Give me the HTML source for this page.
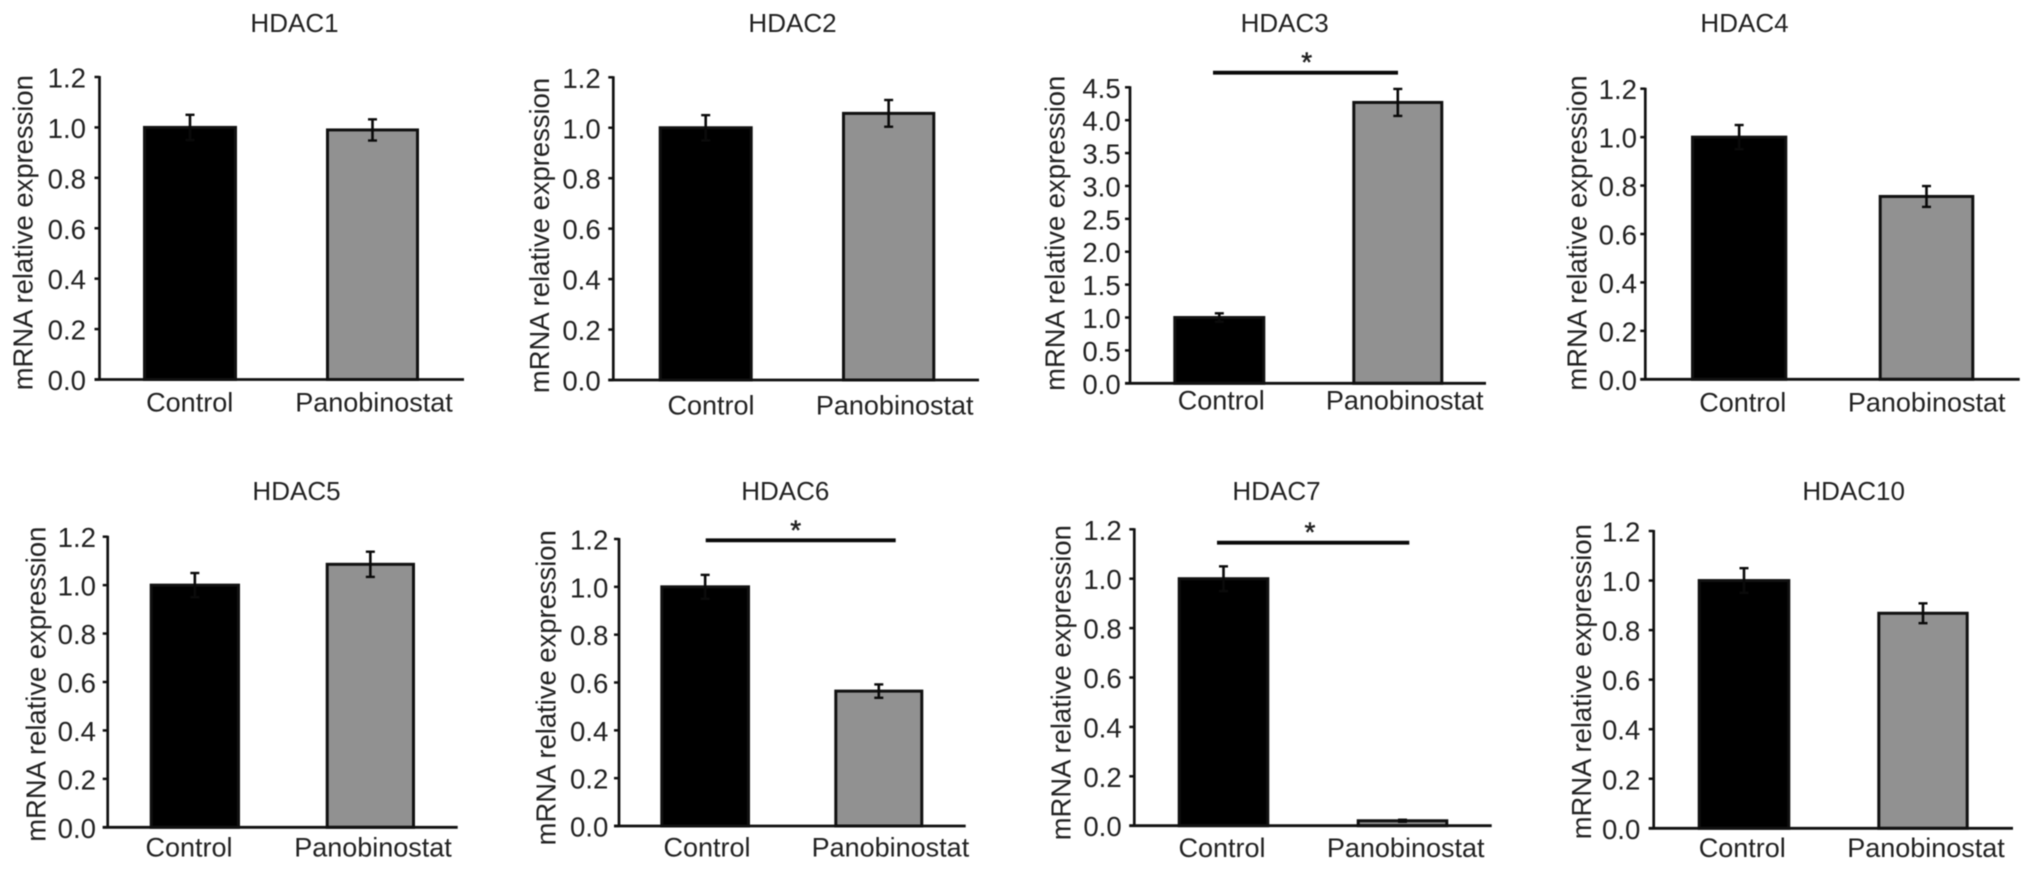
<!DOCTYPE html>
<html lang="en">
<head>
<meta charset="utf-8">
<title>HDAC mRNA relative expression</title>
<style>
  html, body { margin: 0; padding: 0; background: #fff; width: 2032px; height: 870px; overflow: hidden; }
  svg { display: block; filter: blur(0.6px); }
  text { font-family: "Liberation Sans", sans-serif; fill: #222; }
</style>
</head>
<body>
<svg id="figure" xmlns="http://www.w3.org/2000/svg" width="2032" height="870" viewBox="0 0 2032 870"></svg>
<script>
// ---- Data ----
const genes = ["HDAC1", "HDAC2", "HDAC3", "HDAC4", "HDAC5", "HDAC6", "HDAC7", "HDAC10"];
const groups = ["Control", "Panobinostat"];
const controlValues = [1.0, 1.0, 1.0, 1.0, 1.0, 1.0, 1.0, 1.0];
const controlErrors = [0.05, 0.05, 0.064, 0.05, 0.05, 0.05, 0.05, 0.05];
const panobinostatValues = [0.99, 1.057, 4.27, 0.755, 1.086, 0.564, 0.02, 0.868];
const panobinostatErrors = [0.042, 0.053, 0.205, 0.043, 0.052, 0.028, 0.004, 0.04];
const significant = [false, false, true, false, false, true, true, false];
const defaultTickLabels = ["0.0", "0.2", "0.4", "0.6", "0.8", "1.0", "1.2"];
const hdac3TickLabels = ["0.0", "0.5", "1.0", "1.5", "2.0", "2.5", "3.0", "3.5", "4.0", "4.5"];
const yAxisTitle = "mRNA relative expression";
const significanceMark = "*";

// ---- Panel layout (frame geometry only, no data) ----
const frames = [
  {ax:99.5,  top:77,    base:379.5, end:464,    bar0:[143,237],       bar1:[326,419],       tx:294.5,  ty:32,  yt:[32.7,232.7],   lx:[189.7,374],     ly:411.7, tr:86},
  {ax:613.3, top:77.3,  base:380,   end:979,    bar0:[658.7,752.7],   bar1:[842,935.3],     tx:792.5,  ty:32,  yt:[549,235.5],    lx:[711,894.7],     ly:414.3, tr:600.7},
  {ax:1130,  top:87.3,  base:383.3, end:1486,   bar0:[1173.3,1265.3], bar1:[1352.3,1443.3], tx:1284.7, ty:32,  yt:[1064.3,233.3], lx:[1221.3,1404.7], ly:409.3, tr:1120.7, sig:[1213,1398,72.7,1306.7]},
  {ax:1645.3,top:88.7,  base:379.3, end:2019.7, bar0:[1691,1787.3],   bar1:[1878.7,1974.3], tx:1744.5, ty:32,  yt:[1586.3,233],   lx:[1742.8,1926.7], ly:411.7, tr:1637},
  {ax:107.7, top:536.7, base:827.3, end:457.7,  bar0:[149.7,240],     bar1:[325.7,415],     tx:296.5,  ty:500, yt:[45.7,684.2],   lx:[189,373],       ly:856.7, tr:96},
  {ax:619,   top:539,   base:826,   end:965.7,  bar0:[660.3,750],     bar1:[834.3,923.3],   tx:785.3,  ty:500, yt:[555.7,687.8],  lx:[707,890.4],     ly:856.7, tr:608.3, sig:[705.7,895.7,540.3,795.7]},
  {ax:1134.3,top:529.3, base:825.7, end:1491.7, bar0:[1177.7,1269.3], bar1:[1356.7,1448.3], tx:1276.5, ty:500, yt:[1070.7,682.7], lx:[1222,1405.7],   ly:857,   tr:1121.7, sig:[1217,1409.3,542.7,1310]},
  {ax:1653.7,top:531,   base:828.3, end:2013,   bar0:[1697.7,1790.3], bar1:[1877.3,1968.7], tx:1853.7, ty:500, yt:[1591,681.7],   lx:[1742.3,1926],   ly:857,   tr:1640.3}
];

const NS = "http://www.w3.org/2000/svg";
const root = document.getElementById("figure");

function make(tag, parent, props) {
  const el = document.createElementNS(NS, tag);
  for (const k in props) el.setAttribute(k, props[k]);
  parent.appendChild(el);
  return el;
}

function drawBar(g, frame, range, value, error, fillColor, key, yOf) {
  const cx = (range[0] + range[1]) / 2;
  const yv = yOf(value);
  const yHi = yOf(value + error);
  const yLo = yOf(Math.max(0, value - error));

  const bar = make("rect", g, {x: range[0] + 1.5, y: yv, width: range[1] - range[0] - 3, height: Math.max(frame.base - yv, 0), fill: fillColor, stroke: "#111", "stroke-width": 3});
  
  

  const stem = make("line", g, {x1: cx, x2: cx, y1: yHi, y2: yLo, stroke: "#0a0a0a", "stroke-width": 2.6});
  
  

  const capHi = make("line", g, {x1: cx - 4.5, x2: cx + 4.5, y1: yHi, y2: yHi, stroke: "#0a0a0a", "stroke-width": 2.4});
  
  

  const capLo = make("line", g, {x1: cx - 4.5, x2: cx + 4.5, y1: yLo, y2: yLo, stroke: "#0a0a0a", "stroke-width": 2.4});
  
  
}

genes.forEach(function (gene, i) {
  const frame = frames[i];
  const ticks = gene === "HDAC3" ? hdac3TickLabels : defaultTickLabels;
  const yMax = parseFloat(ticks[ticks.length - 1]);
  const yOf = function (v) { return frame.base - (v / yMax) * (frame.base - frame.top); };
  const slug = gene.toLowerCase();

  const g = make("g", root, {});
  
  

  const title = make("text", g, {x: frame.tx, y: frame.ty, "text-anchor": "middle", "font-size": 26});
  title.textContent = gene;
  
  

  const yTitle = make("text", g, {transform: "translate(" + frame.yt[0] + "," + frame.yt[1] + ") rotate(-90)", "text-anchor": "middle", "font-size": 27.4});
  yTitle.textContent = yAxisTitle;
  
  

  const yAxis = make("line", g, {x1: frame.ax, x2: frame.ax, y1: frame.top - 1, y2: frame.base, stroke: "#111", "stroke-width": 2.7});
  
  

  ticks.forEach(function (label) {
    const y = yOf(parseFloat(label));
    const tick = make("line", g, {x1: frame.ax - 5, x2: frame.ax, y1: y, y2: y, stroke: "#111", "stroke-width": 2.5});
    
    

    const text = make("text", g, {x: frame.tr, y: y + 10.5, "text-anchor": "end", "font-size": 27.6});
    text.textContent = label;
    
    
  });

  drawBar(g, frame, frame.bar0, controlValues[i], controlErrors[i], "#000", slug + "-control", yOf);
  drawBar(g, frame, frame.bar1, panobinostatValues[i], panobinostatErrors[i], "#919191", slug + "-panobinostat", yOf);

  const xAxis = make("line", g, {x1: frame.ax - 5, x2: frame.end, y1: frame.base, y2: frame.base, stroke: "#111", "stroke-width": 2.8});
  
  

  groups.forEach(function (name, j) {
    const lab = make("text", g, {x: frame.lx[j], y: frame.ly, "text-anchor": "middle", "font-size": 27});
    lab.textContent = name;
    
    
  });

  if (significant[i]) {
    const s = frame.sig;
    const sigLine = make("line", g, {x1: s[0], x2: s[1], y1: s[2], y2: s[2], stroke: "#0a0a0a", "stroke-width": 3.8});
    
    

    const star = make("text", g, {x: s[3], y: s[2] - 1, "text-anchor": "middle", "font-size": 28, stroke: "#222", "stroke-width": 0.5});
    star.textContent = significanceMark;
    
    
  }
});
</script>
</body>
</html>
